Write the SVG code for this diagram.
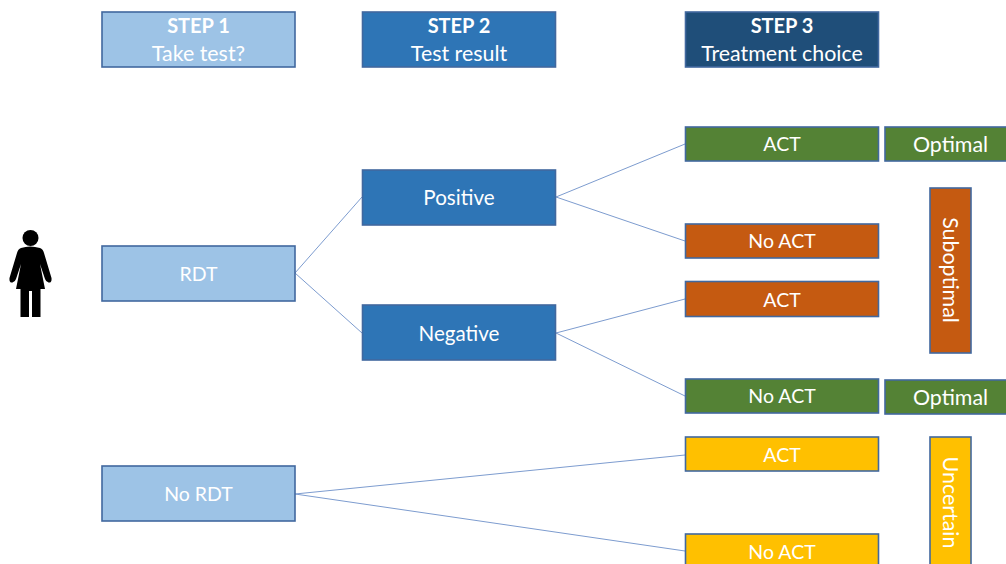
<svg xmlns="http://www.w3.org/2000/svg" width="1006" height="564" viewBox="0 0 1006 564">
<style>
text{font-family:Lato,"Open Sans","Liberation Sans",sans-serif;font-size:21.4px;fill:#fff;text-anchor:middle}
.b{font-weight:700;font-size:20px}
.c{font-size:19.5px}
.m{font-size:20.6px}
rect{stroke:#41689f;stroke-width:1.6}
.s1{fill:#9dc3e6}.s2{fill:#2e75b6}.s3{fill:#1f4e79}
.g{fill:#548235}.o{fill:#c55a11}.y{fill:#ffc000}
#connectors line{stroke:#7d9ccf;stroke-width:1}
</style>
<rect width="1006" height="564" style="fill:#fff;stroke:none"/>
<g id="connectors">
<line x1="295" y1="273" x2="362" y2="197"/>
<line x1="295" y1="273" x2="362" y2="333"/>
<line x1="556" y1="197" x2="685" y2="144"/>
<line x1="556" y1="197" x2="685" y2="241"/>
<line x1="556" y1="333" x2="685" y2="299"/>
<line x1="556" y1="333" x2="685" y2="396"/>
<line x1="295" y1="494" x2="685" y2="455"/>
<line x1="295" y1="494" x2="685" y2="551"/>
</g>
<g id="person" fill="#000">
<circle cx="30.500" cy="238" r="8"/>
<path d="M21 248Q30 245 40 248Q43 249 44 253L51.500 278Q52 283 48.500 282.500Q46 282 45 279L40 264L45 289H40.500V317H32V291H29V317H20.500V289H16L21 264L16 279Q15 282 12.500 282.500Q9 283 9.500 278L17 253Q18 249 21 248Z"/>
</g>
<g id="step1"><rect class="s1" x="102" y="12" width="193" height="55"/><text class="b" x="198.500" y="33">STEP 1</text><text x="198.500" y="60.500">Take test?</text></g>
<g id="step2"><rect class="s2" x="362.500" y="12" width="193" height="55"/><text class="b" x="459" y="33">STEP 2</text><text x="459" y="60.500">Test result</text></g>
<g id="step3"><rect class="s3" x="685.500" y="12" width="193" height="55"/><text class="b" x="782" y="33">STEP 3</text><text x="782" y="60.500">Treatment choice</text></g>
<g id="rdt"><rect class="s1" x="102" y="246" width="193" height="55"/><text class="c" x="198.500" y="281">RDT</text></g>
<g id="no-rdt"><rect class="s1" x="102" y="466" width="193" height="55"/><text class="c" x="198.500" y="501">No RDT</text></g>
<g id="positive"><rect class="s2" x="362.500" y="170" width="193" height="55"/><text class="m" x="459" y="205">Positive</text></g>
<g id="negative"><rect class="s2" x="362.500" y="305" width="193" height="55"/><text class="m" x="459" y="341">Negative</text></g>
<g id="act1"><rect class="g" x="685.500" y="127" width="193" height="34"/><text class="c" x="782" y="151">ACT</text></g>
<g id="noact1"><rect class="o" x="685.500" y="224" width="193" height="34"/><text class="c" x="782" y="248">No ACT</text></g>
<g id="act2"><rect class="o" x="685.500" y="281.500" width="193" height="35"/><text class="c" x="782" y="306.500">ACT</text></g>
<g id="noact2"><rect class="g" x="685.500" y="379" width="193" height="34"/><text class="c" x="782" y="403">No ACT</text></g>
<g id="act3"><rect class="y" x="685.500" y="437" width="193" height="34"/><text class="c" x="782" y="462">ACT</text></g>
<g id="noact3"><rect class="y" x="685.500" y="534" width="193" height="34"/><text class="c" x="782" y="559">No ACT</text></g>
<g id="optimal1"><rect class="g" x="885" y="127" width="130" height="34"/><text x="950.500" y="151.500">Optimal</text></g>
<g id="optimal2"><rect class="g" x="885" y="380" width="130" height="34"/><text x="950.500" y="404.500">Optimal</text></g>
<g id="suboptimal"><rect class="o" x="930" y="188" width="41" height="165"/><text transform="translate(943 270) rotate(90)">Suboptimal</text></g>
<g id="uncertain"><rect class="y" x="930" y="437" width="41" height="140"/><text transform="translate(943 502.500) rotate(90)">Uncertain</text></g>
</svg>
